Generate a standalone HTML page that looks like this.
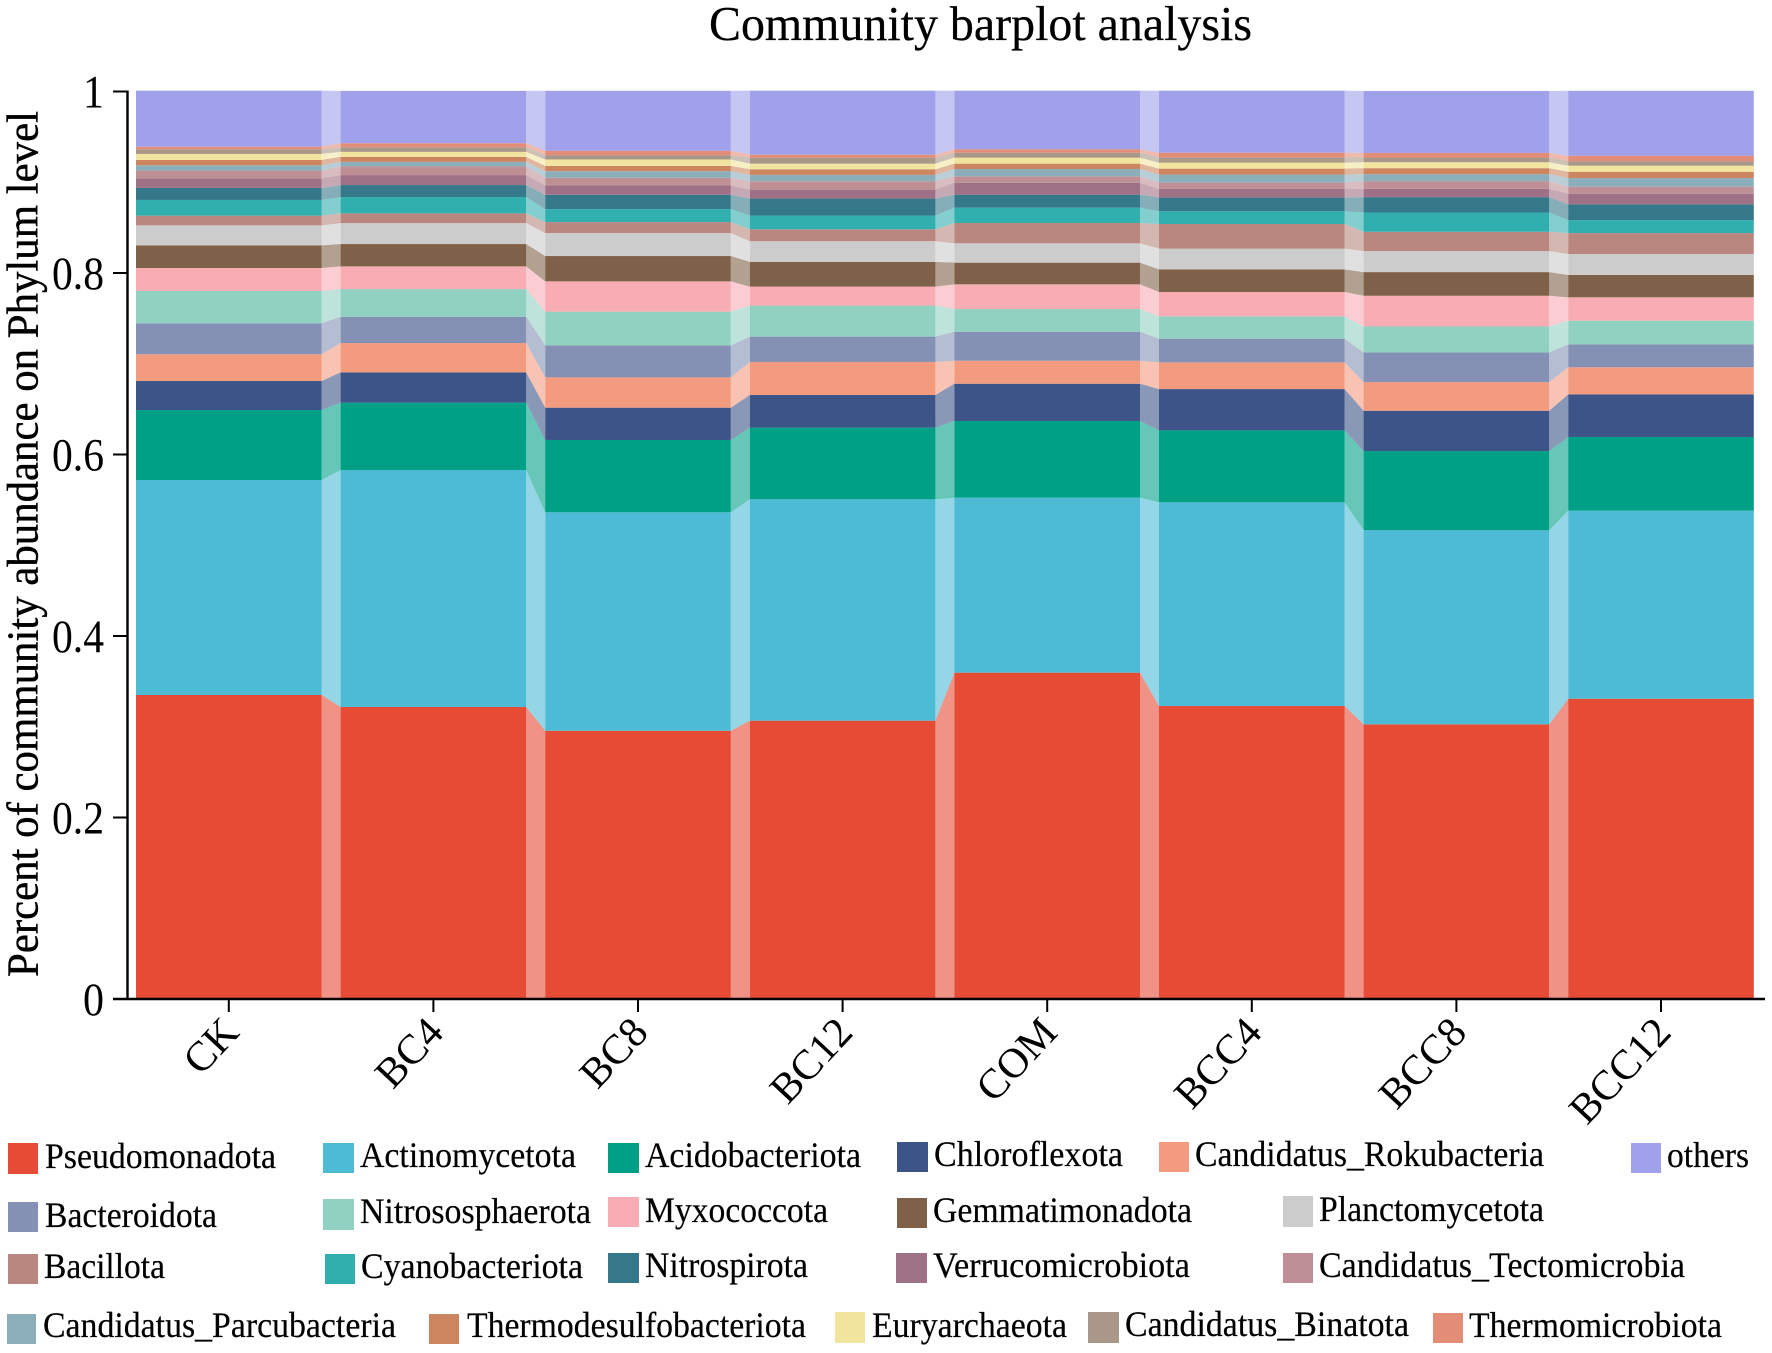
<!DOCTYPE html>
<html lang="en">
<head>
<meta charset="utf-8">
<title>Community barplot analysis</title>
<style>
html,body{margin:0;padding:0;background:#fff;width:1772px;height:1353px;overflow:hidden}
svg{display:block}
text{font-family:"Liberation Serif","Times New Roman",serif;fill:#000}
.lg{font-size:36px;stroke:#000;stroke-width:.2px}
</style>
</head>
<body>
<svg id="chart" width="1772" height="1353" viewBox="0 0 1772 1353" xmlns="http://www.w3.org/2000/svg">
  <text x="709" y="40" font-size="49" stroke="#000" stroke-width=".25" textLength="543" lengthAdjust="spacingAndGlyphs">Community barplot analysis</text>
  <text transform="translate(37.5,977) rotate(-90)" x="0" y="0" font-size="44" stroke="#000" stroke-width=".4" textLength="866" lengthAdjust="spacingAndGlyphs">Percent of community abundance on Phylum level</text>
  <g id="stack"></g>
  <g id="axes"></g>

  <g>
    <g><rect x="8" y="1143" width="30" height="31" fill="#E64B35"/><text class="lg" x="45" y="1168" textLength="231" lengthAdjust="spacingAndGlyphs">Pseudomonadota</text></g>
    <g><rect x="323" y="1143" width="31" height="30" fill="#4DBBD5"/><text class="lg" x="360" y="1167" textLength="216" lengthAdjust="spacingAndGlyphs">Actinomycetota</text></g>
    <g><rect x="608" y="1143" width="31" height="30" fill="#00A087"/><text class="lg" x="645" y="1167" textLength="216" lengthAdjust="spacingAndGlyphs">Acidobacteriota</text></g>
    <g><rect x="897" y="1142" width="31" height="30" fill="#3C5488"/><text class="lg" x="934" y="1166" textLength="189" lengthAdjust="spacingAndGlyphs">Chloroflexota</text></g>
    <g><rect x="1159" y="1142" width="30" height="30" fill="#F39B7F"/><text class="lg" x="1195" y="1166" textLength="349" lengthAdjust="spacingAndGlyphs">Candidatus_Rokubacteria</text></g>
    <g><rect x="1631" y="1143" width="30" height="30" fill="#A0A0EB"/><text class="lg" x="1667" y="1167" textLength="82" lengthAdjust="spacingAndGlyphs">others</text></g>

    <g><rect x="8" y="1202" width="30" height="30" fill="#8491B4"/><text class="lg" x="45" y="1227" textLength="172" lengthAdjust="spacingAndGlyphs">Bacteroidota</text></g>
    <g><rect x="323" y="1199" width="31" height="31" fill="#91D1C2"/><text class="lg" x="360" y="1223" textLength="231" lengthAdjust="spacingAndGlyphs">Nitrososphaerota</text></g>
    <g><rect x="608" y="1197" width="31" height="30" fill="#F8ACB4"/><text class="lg" x="645" y="1222" textLength="183" lengthAdjust="spacingAndGlyphs">Myxococcota</text></g>
    <g><rect x="897" y="1198" width="30" height="30" fill="#7E6148"/><text class="lg" x="933" y="1222" textLength="259" lengthAdjust="spacingAndGlyphs">Gemmatimonadota</text></g>
    <g><rect x="1283" y="1196" width="30" height="31" fill="#CCCCCC"/><text class="lg" x="1319" y="1221" textLength="225" lengthAdjust="spacingAndGlyphs">Planctomycetota</text></g>

    <g><rect x="8" y="1254" width="30" height="30" fill="#B9877F"/><text class="lg" x="44" y="1278" textLength="121" lengthAdjust="spacingAndGlyphs">Bacillota</text></g>
    <g><rect x="325" y="1254" width="30" height="30" fill="#31AEAE"/><text class="lg" x="361" y="1278" textLength="222" lengthAdjust="spacingAndGlyphs">Cyanobacteriota</text></g>
    <g><rect x="608" y="1253" width="31" height="30" fill="#347889"/><text class="lg" x="645" y="1277" textLength="163" lengthAdjust="spacingAndGlyphs">Nitrospirota</text></g>
    <g><rect x="896" y="1253" width="31" height="30" fill="#9E7186"/><text class="lg" x="933" y="1277" textLength="257" lengthAdjust="spacingAndGlyphs">Verrucomicrobiota</text></g>
    <g><rect x="1283" y="1253" width="30" height="30" fill="#BE9095"/><text class="lg" x="1319" y="1277" textLength="366" lengthAdjust="spacingAndGlyphs">Candidatus_Tectomicrobia</text></g>

    <g><rect x="7" y="1314" width="29" height="30" fill="#8BAEBA"/><text class="lg" x="43" y="1337" textLength="353" lengthAdjust="spacingAndGlyphs">Candidatus_Parcubacteria</text></g>
    <g><rect x="429" y="1314" width="30" height="30" fill="#CC855F"/><text class="lg" x="467" y="1337" textLength="339" lengthAdjust="spacingAndGlyphs">Thermodesulfobacteriota</text></g>
    <g><rect x="835" y="1312" width="30" height="31" fill="#F1E49F"/><text class="lg" x="872" y="1337" textLength="195" lengthAdjust="spacingAndGlyphs">Euryarchaeota</text></g>
    <g><rect x="1088" y="1312" width="31" height="31" fill="#A99787"/><text class="lg" x="1125" y="1336" textLength="284" lengthAdjust="spacingAndGlyphs">Candidatus_Binatota</text></g>
    <g><rect x="1433" y="1313" width="30" height="30" fill="#E38C78"/><text class="lg" x="1469" y="1337" textLength="253" lengthAdjust="spacingAndGlyphs">Thermomicrobiota</text></g>
  </g>
</svg>

<script>
var samples = ["CK","BC4","BC8","BC12","COM","BCC4","BCC8","BCC12"];
var yTickValues = [0,0.2,0.4,0.6,0.8,1];
var yTickLabels = ["0","0.2","0.4","0.6","0.8","1"];

var seriesNames = ["Pseudomonadota","Actinomycetota","Acidobacteriota","Chloroflexota","Candidatus_Rokubacteria","Bacteroidota","Nitrososphaerota","Myxococcota","Gemmatimonadota","Planctomycetota","Bacillota","Cyanobacteriota","Nitrospirota","Verrucomicrobiota","Candidatus_Tectomicrobia","Candidatus_Parcubacteria","Thermodesulfobacteriota","Euryarchaeota","Candidatus_Binatota","Thermomicrobiota","others"];
var seriesColors = ["#E64B35","#4DBBD5","#00A087","#3C5488","#F39B7F","#8491B4","#91D1C2","#F8ACB4","#7E6148","#CCCCCC","#B9877F","#31AEAE","#347889","#9E7186","#BE9095","#8BAEBA","#CC855F","#F1E49F","#A99787","#E38C78","#A0A0EB"];

var pseudomonadota = [.3350,.3218,.2956,.3067,.3596,.3229,.3027,.3309];
var actinomycetota = [.2369,.2611,.2407,.2439,.1928,.2244,.2138,.2072];
var acidobacteriota = [.0771,.0742,.0797,.0790,.0845,.0793,.0873,.0812];
var chloroflexota = [.0320,.0334,.0356,.0360,.0411,.0455,.0444,.0470];
var rokubacteria = [.0294,.0323,.0334,.0364,.0253,.0294,.0316,.0298];
var bacteroidota = [.0342,.0290,.0353,.0279,.0320,.0261,.0327,.0253];
var nitrososphaerota = [.0356,.0305,.0371,.0342,.0250,.0246,.0286,.0261];
var myxococcota = [.0253,.0250,.0334,.0209,.0272,.0268,.0338,.0257];
var gemmatimonadota = [.0250,.0246,.0279,.0272,.0239,.0250,.0261,.0246];
var planctomycetota = [.0220,.0231,.0253,.0228,.0213,.0228,.0231,.0231];
var bacillota = [.0107,.0107,.0121,.0132,.0224,.0272,.0213,.0231];
var cyanobacteriota = [.0173,.0180,.0143,.0151,.0169,.0140,.0213,.0143];
var nitrospirota = [.0132,.0132,.0158,.0187,.0143,.0151,.0169,.0173];
var verrucomicrobiota = [.0107,.0110,.0103,.0099,.0132,.0095,.0092,.0118];
var tectomicrobia = [.0084,.0095,.0084,.0092,.0070,.0070,.0084,.0077];
var parcubacteria = [.0059,.0051,.0073,.0070,.0081,.0088,.0077,.0095];
var thermodesulfobacteriota = [.0059,.0055,.0059,.0062,.0059,.0066,.0066,.0070];
var euryarchaeota = [.0066,.0055,.0070,.0062,.0066,.0066,.0066,.0066];
var binatota = [.0051,.0051,.0048,.0066,.0055,.0059,.0051,.0051];
var thermomicrobiota = [.0029,.0044,.0048,.0033,.0037,.0051,.0051,.0059];
var others = [.0617,.0577,.0661,.0705,.0646,.0683,.0683,.0716];

var seriesValues = [pseudomonadota,actinomycetota,acidobacteriota,chloroflexota,rokubacteria,bacteroidota,nitrososphaerota,myxococcota,gemmatimonadota,planctomycetota,bacillota,cyanobacteriota,nitrospirota,verrucomicrobiota,tectomicrobia,parcubacteria,thermodesulfobacteriota,euryarchaeota,binatota,thermomicrobiota,others];

(function(){
  var NS = "http://www.w3.org/2000/svg";
  var stackG = document.getElementById("stack");
  var axesG = document.getElementById("axes");
  var plotLeft = 136, step = 204.6, barW = 185.6;
  var y0 = 999, y1 = 91.5;
  function yScale(v){ return y0 - v * (y0 - y1); }
  function barLeft(i){ return plotLeft + i * step; }
  function barCenter(i){ return barLeft(i) + barW / 2; }
  function mk(tag, attrs, parent){
    var el = document.createElementNS(NS, tag);
    for (var k in attrs) el.setAttribute(k, attrs[k]);
    parent.appendChild(el);
    return el;
  }

  var base = samples.map(function(){ return 0; });
  seriesValues.forEach(function(vals, s){
    var g = mk("g", {}, stackG);
    
    
    var tops = base.map(function(b, i){ return b + vals[i]; });
    samples.forEach(function(name, i){
      var yt = yScale(tops[i]), yb = yScale(base[i]);
      var r = mk("rect", {x: barLeft(i), y: yt, width: barW, height: Math.max(0, yb - yt), fill: seriesColors[s]}, g);
      
      
      if (i < samples.length - 1) {
        var xa = barLeft(i) + barW, xb = barLeft(i + 1);
        var pts = [xa, yScale(tops[i]), xb, yScale(tops[i + 1]), xb, yScale(base[i + 1]), xa, yScale(base[i])];
        var p = mk("polygon", {points: pts.join(" "), fill: seriesColors[s], "fill-opacity": 0.6}, g);
        
        
      }
    });
    base = tops;
  });

  // y axis
  var yLine = mk("line", {x1: 127.5, x2: 127.5, y1: y1 - 1, y2: y0 + 1, stroke: "#000", "stroke-width": 2.4}, axesG);
  
  
  yTickValues.forEach(function(v, i){
    var y = yScale(v);
    var t = mk("line", {x1: 113, x2: 127.5, y1: y, y2: y, stroke: "#000", "stroke-width": 2}, axesG);
    
    
    var label = yTickLabels[i];
    var l = mk("text", {x: 104, y: y + 16, "font-size": 47, "text-anchor": "end", textLength: label.length > 1 ? 52 : 21, lengthAdjust: "spacingAndGlyphs"}, axesG);
    
    
    l.textContent = label;
  });

  // x axis
  var xLine = mk("line", {x1: 113, x2: 1765, y1: y0, y2: y0, stroke: "#000", "stroke-width": 2.4}, axesG);
  
  
  samples.forEach(function(name, i){
    var x = barCenter(i);
    var t = mk("line", {x1: x, x2: x, y1: y0, y2: y0 + 13, stroke: "#000", "stroke-width": 2}, axesG);
    
    
    var l = mk("text", {transform: "translate(" + (x + 12) + ",1034) rotate(-47)", "font-size": 42, "text-anchor": "end"}, axesG);
    
    
    l.textContent = name;
  });
})();
</script>
</body>
</html>
